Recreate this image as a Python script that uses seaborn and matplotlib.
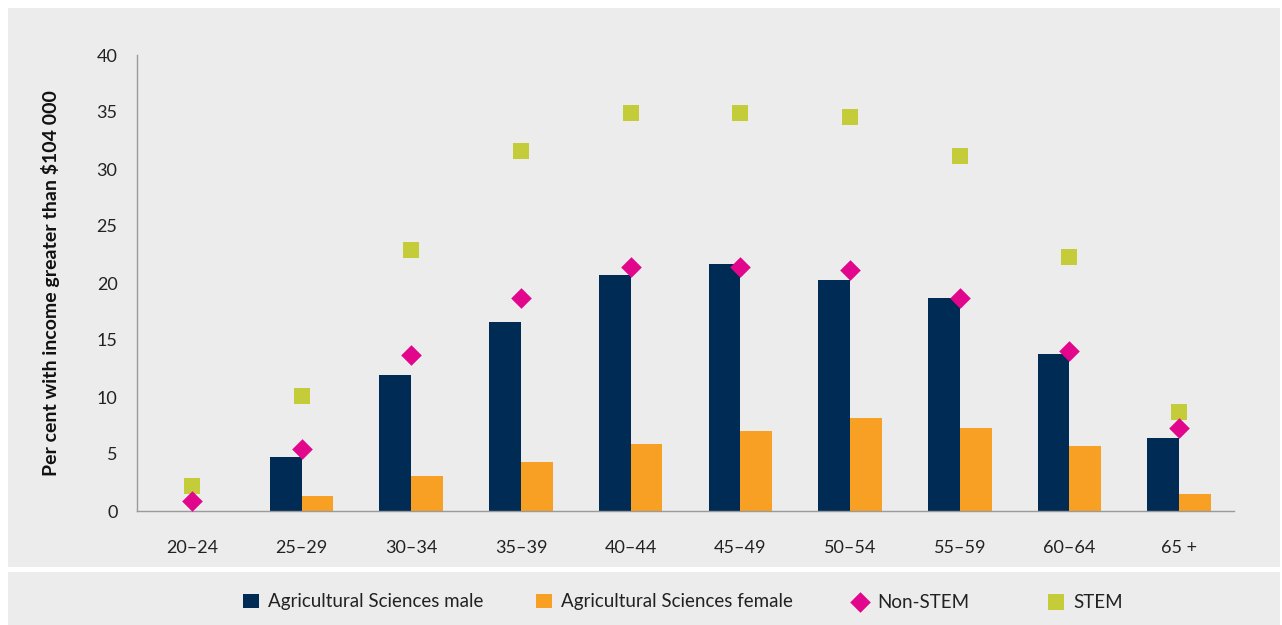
import matplotlib
matplotlib.use("Agg")
import matplotlib.pyplot as plt
from matplotlib.patches import Rectangle
import seaborn as sns
import pandas as pd
import numpy as np

categories = ["20–24", "25–29", "30–34", "35–39", "40–44", "45–49", "50–54", "55–59", "60–64", "65 +"]
agri_male = [0.0, 4.7, 11.9, 16.6, 20.7, 21.7, 20.3, 18.7, 13.8, 6.4]
agri_female = [0.0, 1.3, 3.1, 4.3, 5.9, 7.0, 8.2, 7.3, 5.7, 1.5]
non_stem = [0.9, 5.4, 13.7, 18.7, 21.4, 21.4, 21.1, 18.7, 14.0, 7.3]
stem = [2.2, 10.1, 22.9, 31.6, 34.9, 34.9, 34.6, 31.1, 22.3, 8.7]
y_ticks = [0, 5, 10, 15, 20, 25, 30, 35, 40]

series_names = ["Agricultural Sciences male", "Agricultural Sciences female", "Non-STEM", "STEM"]
C_MALE = "#002b54"
C_FEMALE = "#f7a023"
C_NON = "#e2068c"
C_STEM = "#c4cd39"
PANEL = "#ececec"

sns.set_theme(style="white")
plt.rcParams["font.family"] = ["Lato", "DejaVu Sans"]

bars = pd.DataFrame({
    "age": categories * 2,
    "value": agri_male + agri_female,
    "series": [series_names[0]] * len(categories) + [series_names[1]] * len(categories),
})

fig = plt.figure(figsize=(12.82, 6.25), dpi=100, facecolor="white")
fig.patches.append(Rectangle((8/1282, 1-567/625), 1272/1282, 559/625, transform=fig.transFigure,
                             facecolor=PANEL, edgecolor="none", zorder=-10))
fig.patches.append(Rectangle((8/1282, 0), 1272/1282, 53/625, transform=fig.transFigure,
                             facecolor=PANEL, edgecolor="none", zorder=-10))

ax = fig.add_axes([137/1282, 1-511/625, (1234-137)/1282, (511-55)/625])
ax.set_facecolor("none")

sns.barplot(data=bars, x="age", y="value", hue="series", order=categories,
            hue_order=series_names[:2], palette=[C_MALE, C_FEMALE], width=0.58,
            saturation=1, errorbar=None, ax=ax, linewidth=0)
sns.stripplot(x=categories, y=stem, jitter=False, marker="s", size=11.5, color=C_STEM,
              linewidth=0, ax=ax, label=series_names[3], zorder=4)
sns.stripplot(x=categories, y=non_stem, jitter=False, marker="D", size=10.5, color=C_NON,
              linewidth=0, ax=ax, label=series_names[2], zorder=5)

ax.set_ylim(0, 40)
ax.set_xlim(-0.5, len(categories) - 0.5)
ax.set_yticks(y_ticks)
ax.set_yticklabels([str(t) for t in y_ticks])
ax.set_xticks(np.arange(-0.5, len(categories), 1.0), minor=False)
ax.set_xticklabels([])
ax.set_xticks(np.arange(len(categories)), minor=True)
ax.set_xticklabels(categories, minor=True)
ax.tick_params(axis="x", which="major", length=6, width=1, color="#9a9a9a", direction="out")
ax.tick_params(axis="x", which="minor", length=0, pad=21, labelsize=13, labelcolor="#222222")
ax.tick_params(axis="y", length=6, width=1, color="#9a9a9a", direction="out", pad=8,
               labelsize=13, labelcolor="#222222")
for s in ["top", "right"]:
    ax.spines[s].set_visible(False)
for s in ["left", "bottom"]:
    ax.spines[s].set_color("#9a9a9a")
    ax.spines[s].set_linewidth(1)
ax.set_xlabel("")
ax.set_ylabel("Per cent with income greater than $104 000", fontsize=14, fontweight="bold",
              color="#111111", labelpad=26)

handles, labels = ax.get_legend_handles_labels()
hmap = {}
for h, l in zip(handles, labels):
    if l not in hmap:
        hmap[l] = h
if ax.get_legend() is not None:
    ax.get_legend().remove()

legend_x = [243, 536, 852, 1048]
for name, lx in zip(series_names, legend_x):
    fig.legend([hmap[name]], [name], loc="center left",
               bbox_to_anchor=(lx/1282, 23/625), frameon=False, fontsize=13.5,
               handlelength=0.85, handleheight=0.85, handletextpad=0.5,
               borderpad=0, borderaxespad=0, labelcolor="#222222")

fig.savefig("out.png", dpi=100, facecolor="white")
